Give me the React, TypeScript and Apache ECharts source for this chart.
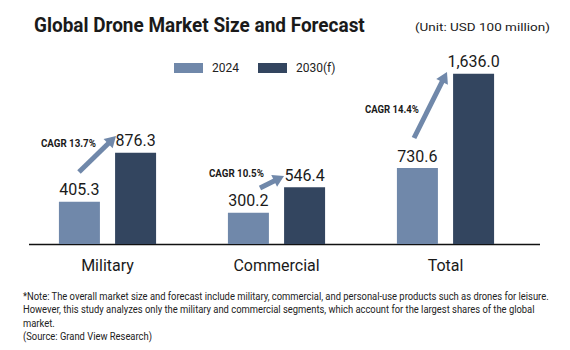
import React, { useEffect, useRef } from "react";
import * as echarts from "echarts";

const categories = ["Military", "Commercial", "Total"];
const values2024 = [405.3, 300.2, 730.6];
const values2030 = [876.3, 546.4, 1636.0];
const cagrLabels = ["CAGR 13.7%", "CAGR 10.5%", "CAGR 14.4%"];
const seriesNames = ["2024", "2030(f)"];

const FONT = "Roboto, 'DejaVu Sans', sans-serif";
const C1 = "#7088aa";
const C2 = "#33455f";
const INK = "#1a1a1a";

// annotation arrows: [tailX, tailY, tipX, tipY]; CAGR text [left, middleY, width]
const arrows = [
  [79, 172, 116, 136],
  [260, 188, 284, 176],
  [414, 138, 447, 72],
];
const cagrPos = [
  [41, 143, 55],
  [209, 173, 55],
  [365, 109, 54],
];

const noteLines = [
  "*Note: The overall market size and forecast include military, commercial, and personal-use products such as drones for leisure.",
  "However, this study analyzes only the military and commercial segments, which account for the largest shares of the global",
  "market.",
  "(Source: Grand View Research)",
];

let measureCtx: CanvasRenderingContext2D | null = null;
function measure(text: string, font: string) {
  if (!measureCtx) measureCtx = document.createElement("canvas").getContext("2d");
  measureCtx!.font = font;
  return measureCtx!.measureText(text).width;
}

// text fitted horizontally to a given width (condensed look)
function fitText(text: string, x: number, y: number, font: string, width: number | null, extra: any = {}, scaleRef?: number) {
  const w = measure(text, font);
  const s = scaleRef != null ? scaleRef : width ? width / w : 1;
  return {
    type: "text",
    x,
    y,
    scaleX: s,
    style: { text, font, fill: INK, ...extra },
  };
}

function arrowGraphics() {
  const out: any[] = [];
  arrows.forEach((a, i) => {
    const [x1, y1, x2, y2] = a;
    const dx = x2 - x1, dy = y2 - y1;
    const len = Math.sqrt(dx * dx + dy * dy);
    const ux = dx / len, uy = dy / len;
    const hl = 11, hw = 6.5;
    const bx = x2 - ux * hl, by = y2 - uy * hl;
    out.push({
      type: "line",
      shape: { x1, y1, x2: bx + ux, y2: by + uy },
      style: { stroke: C1, lineWidth: 5 },
    });
    out.push({
      type: "polygon",
      shape: {
        points: [
          [x2, y2],
          [bx - uy * hw, by + ux * hw],
          [bx + uy * hw, by - ux * hw],
        ],
      },
      style: { fill: C1 },
    });
    out.push(
      fitText(cagrLabels[i], cagrPos[i][0], cagrPos[i][1], `bold 11px ${FONT}`, cagrPos[i][2], {
        textVerticalAlign: "middle",
      })
    );
  });
  return out;
}

export default function App() {
  const ref = useRef<HTMLDivElement>(null);
  useEffect(() => {
    const chart = echarts.init(ref.current!, null, { renderer: "svg" });
    const labelStyle = {
      show: true,
      position: "top",
      distance: 4,
      fontSize: 16,
      fontFamily: FONT,
      color: INK,
      formatter: (p: any) =>
        p.value.toLocaleString("en-US", { minimumFractionDigits: 1, maximumFractionDigits: 1 }),
    };
    const noteFont = `10px ${FONT}`;
    const noteScale = 527 / measure(noteLines[0], noteFont);
    chart.setOption({
      animation: false,
      backgroundColor: "#ffffff",
      grid: { left: 23, right: 40, top: 36, bottom: 106 },
      legend: {
        left: 169,
        top: 57,
        itemWidth: 29,
        itemHeight: 10,
        itemGap: 19,
        icon: "rect",
        textStyle: { fontSize: 12, fontFamily: FONT, color: "#222", padding: [0, 0, 0, 4] },
        data: seriesNames,
      },
      xAxis: {
        type: "category",
        data: categories,
        axisLine: { show: false },
        axisTick: { show: false },
        axisLabel: { fontSize: 16, fontFamily: FONT, color: INK, margin: 13 },
      },
      yAxis: {
        type: "value",
        min: 0,
        max: 2000,
        show: false,
        splitLine: { show: false },
      },
      series: [
        {
          name: seriesNames[0],
          type: "bar",
          data: values2024,
          barWidth: 41,
          barGap: "37%",
          itemStyle: { color: C1 },
          label: labelStyle,
        },
        {
          name: seriesNames[1],
          type: "bar",
          data: values2030,
          barWidth: 41,
          itemStyle: { color: C2 },
          label: labelStyle,
        },
      ],
      graphic: [
        fitText("Global Drone Market Size and Forecast", 34, 14, `bold 21px ${FONT}`, 331),
        fitText("(Unit: USD 100 million)", 415, 22, `11px ${FONT}`, 135),
        {
          type: "line",
          shape: { x1: 29, y1: 244.5, x2: 540, y2: 244.5 },
          style: { stroke: "#111", lineWidth: 1.5 },
        },
        ...arrowGraphics(),
        ...noteLines.map((t, i) => fitText(t, 23, 291 + i * 13.6, noteFont, null, { fill: "#222" }, noteScale)),
      ],
    });
    return () => chart.dispose();
  }, []);
  return <div ref={ref} style={{ width: 570, height: 350, position: "absolute", left: 0, top: 0 }} />;
}
